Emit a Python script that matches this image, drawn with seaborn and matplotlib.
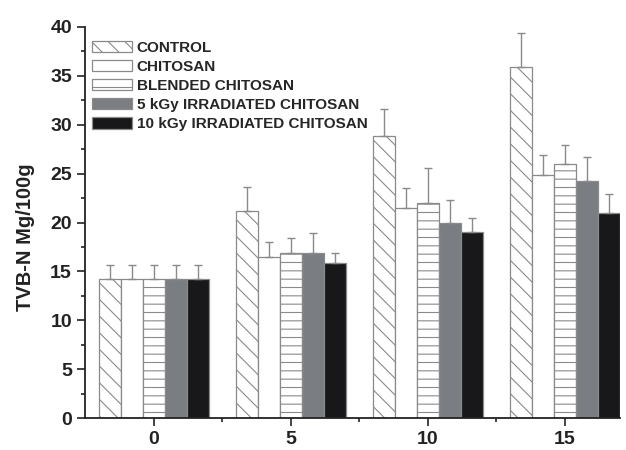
import matplotlib

matplotlib.use("Agg")

import matplotlib.pyplot as plt
import pandas as pd
import seaborn as sns
from matplotlib.ticker import FixedLocator, MultipleLocator

# storage days (x categories)
days = ["0", "5", "10", "15"]
treatments = [
    "CONTROL",
    "CHITOSAN",
    "BLENDED CHITOSAN",
    "5 kGy IRRADIATED CHITOSAN",
    "10 kGy IRRADIATED CHITOSAN",
]

# TVB-N means per treatment, one value per day
control = [14.2, 21.2, 28.9, 35.9]
chitosan = [14.2, 16.5, 21.5, 24.9]
blended = [14.2, 16.9, 22.0, 26.0]
irr_5kgy = [14.2, 16.9, 20.0, 24.2]
irr_10kgy = [14.2, 15.9, 19.0, 21.0]

# upper error bar lengths
control_err = [1.5, 2.45, 2.7, 3.5]
chitosan_err = [1.5, 1.5, 2.0, 2.0]
blended_err = [1.5, 1.5, 3.6, 1.9]
irr_5kgy_err = [1.5, 2.0, 2.3, 2.5]
irr_10kgy_err = [1.5, 1.0, 1.5, 1.9]

means = [control, chitosan, blended, irr_5kgy, irr_10kgy]
errors = [control_err, chitosan_err, blended_err, irr_5kgy_err, irr_10kgy_err]

fills = ["white", "white", "white", "#7a7e82", "#18181b"]
hatches = ["\\\\", "", "--", "", ""]
edge = "#8a8a8a"

rows = []
for name, vals in zip(treatments, means):
    for day, v in zip(days, vals):
        rows.append({"day": day, "treatment": name, "value": v})
df = pd.DataFrame(rows)

sns.set_style("ticks")
plt.rcParams["font.family"] = ["Liberation Sans", "DejaVu Sans"]
plt.rcParams["hatch.linewidth"] = 0.8

fig, ax = plt.subplots(figsize=(6.26, 4.5), dpi=100)
fig.subplots_adjust(left=0.136, right=0.99, bottom=0.071, top=0.94)

sns.barplot(
    data=df,
    x="day",
    y="value",
    hue="treatment",
    order=days,
    hue_order=treatments,
    palette=fills,
    saturation=1,
    errorbar=None,
    width=0.8,
    edgecolor=edge,
    linewidth=0.9,
    ax=ax,
)

bar_containers = list(ax.containers)
for container, hatch, err in zip(bar_containers, hatches, errors):
    xs, ys = [], []
    for bar in container:
        bar.set_hatch(hatch)
        bar.set_edgecolor(edge)
        xs.append(bar.get_x() + bar.get_width() / 2)
        ys.append(bar.get_height())
    ax.errorbar(
        xs, ys, yerr=[[0] * len(err), err], fmt="none",
        ecolor=edge, elinewidth=1.0, capsize=2.8, capthick=1.0,
    )

if ax.get_legend() is not None:
    ax.get_legend().remove()
ax.legend(
    handles=[c.patches[0] for c in bar_containers],
    labels=treatments,
    loc="upper left",
    bbox_to_anchor=(0.012, 0.965),
    frameon=False,
    borderpad=0,
    borderaxespad=0,
    handlelength=2.65,
    handleheight=0.8,
    handletextpad=0.3,
    labelspacing=0.32,
    prop={"weight": "bold", "size": 11},
)

ax.set_ylim(0, 40)
ax.set_xlim(-0.5, 3.4)
ax.yaxis.set_major_locator(MultipleLocator(5))
ax.yaxis.set_minor_locator(MultipleLocator(2.5))
ax.xaxis.set_minor_locator(FixedLocator([0.5, 1.5, 2.5]))
ax.tick_params(axis="both", which="major", length=6, width=1.2, labelsize=14, colors="#222222")
ax.tick_params(axis="both", which="minor", length=3, width=1.2, colors="#222222")
for lab in ax.get_xticklabels() + ax.get_yticklabels():
    lab.set_fontweight("bold")
    lab.set_color("#222222")

ax.set_xlabel("")
ax.set_ylabel("TVB-N Mg/100g", fontsize=14.5, fontweight="bold", color="#222222")
ax.yaxis.set_label_coords(-0.094, 0.463)

sns.despine(ax=ax)
for side in ["left", "bottom"]:
    ax.spines[side].set_linewidth(1.3)
    ax.spines[side].set_color("#222222")

fig.savefig("out.png", dpi=100)
